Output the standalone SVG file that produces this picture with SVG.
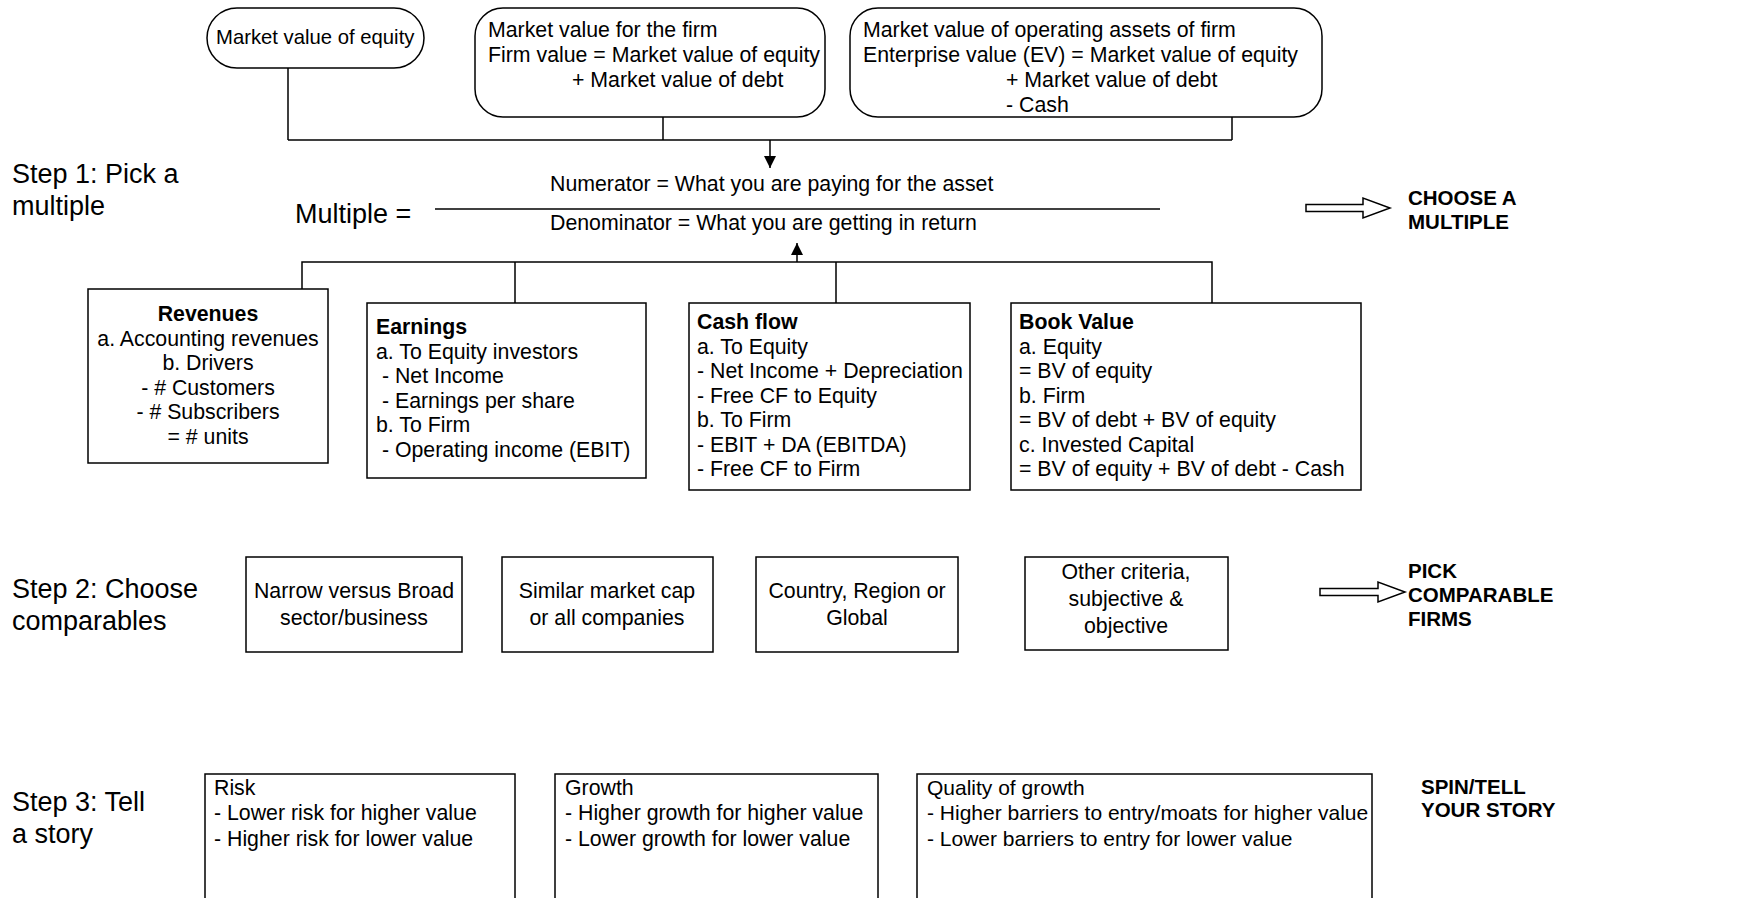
<svg xmlns="http://www.w3.org/2000/svg" width="1743" height="898" viewBox="0 0 1743 898">
<style>
text{font-family:"Liberation Sans",Arial,Helvetica,sans-serif;font-size:21.3px;fill:#000}
.step{font-size:27px}
.big{font-size:27px}
.b{font-weight:bold}
.lab{font-weight:bold;font-size:20.5px}
.c{text-anchor:middle}
.sm{font-size:21px}
.box{fill:#fff;stroke:#000;stroke-width:1.5}
.ln{fill:none;stroke:#000;stroke-width:1.5}
.hollow{fill:#fff;stroke:#000;stroke-width:1.5}
</style>
<defs>
<marker id="ah" viewBox="0 0 12 12" refX="12" refY="6" markerWidth="12" markerHeight="12" markerUnits="userSpaceOnUse" orient="auto">
<path d="M0,0 L12,6 L0,12 Z" fill="#000"/>
</marker>
</defs>
<rect width="1743" height="898" fill="#fff"/>

<g id="connectors">
<path class="ln" d="M288,68 V140 M663,117 V140 M1232,117 V140 M288,140 H1232"/>
<path class="ln" d="M770,140 V168" marker-end="url(#ah)"/>
<path class="ln" d="M302,289 V262 H1212 V303 M515,262 V303 M836,262 V303"/>
<path class="ln" d="M797,262 V243" marker-end="url(#ah)"/>
<line class="ln" x1="435" y1="209" x2="1160" y2="209"/>
</g>

<g id="step1-label">
<text class="step" x="12" y="183">Step 1: Pick a</text>
<text class="step" x="12" y="215">multiple</text>
</g>
<g id="step2-label">
<text class="step" x="12" y="598">Step 2: Choose</text>
<text class="step" x="12" y="630">comparables</text>
</g>
<g id="step3-label">
<text class="step" x="12" y="811">Step 3: Tell</text>
<text class="step" x="12" y="843">a story</text>
</g>

<g id="equity">
<rect class="box" x="207" y="8" width="217" height="60" rx="30" ry="30"/>
<text x="216" y="44" style="font-size:20.3px">Market value of equity</text>
</g>
<g id="firm">
<rect class="box" x="475" y="8" width="350" height="109" rx="28" ry="28"/>
<text x="488" y="37">Market value for the firm</text>
<text x="488" y="62">Firm value = Market value of equity</text>
<text x="572" y="87">+ Market value of debt</text>
</g>
<g id="ev">
<rect class="box" x="850" y="8" width="472" height="109" rx="28" ry="28"/>
<text x="863" y="37">Market value of operating assets of firm</text>
<text x="863" y="62">Enterprise value (EV) = Market value of equity</text>
<text x="1006" y="87">+ Market value of debt</text>
<text x="1006" y="112">- Cash</text>
</g>

<g id="multiple">
<text class="big" x="295" y="223">Multiple =</text>
<text x="550" y="191">Numerator = What you are paying for the asset</text>
<text x="550" y="230">Denominator = What you are getting in return</text>
</g>

<g id="choose-multiple">
<path class="hollow" d="M1306,204.5 H1363 V198 L1390,208 L1363,218 V211.5 H1306 Z"/>
<text class="lab" x="1408" y="205">CHOOSE A</text>
<text class="lab" x="1408" y="229">MULTIPLE</text>
</g>

<g id="revenues">
<rect class="box" x="88" y="289" width="240" height="174"/>
<text class="c b" x="208" y="321">Revenues</text>
<text class="c" x="208" y="346">a. Accounting revenues</text>
<text class="c" x="208" y="370">b. Drivers</text>
<text class="c" x="208" y="395">- # Customers</text>
<text class="c" x="208" y="419">- # Subscribers</text>
<text class="c" x="208" y="444">= # units</text>
</g>
<g id="earnings">
<rect class="box" x="367" y="303" width="279" height="175"/>
<text class="b" x="376" y="334">Earnings</text>
<text x="376" y="359">a. To Equity investors</text>
<text x="376" y="383" xml:space="preserve"> - Net Income</text>
<text x="376" y="408" xml:space="preserve"> - Earnings per share</text>
<text x="376" y="432">b. To Firm</text>
<text x="376" y="457" xml:space="preserve"> - Operating income (EBIT)</text>
</g>
<g id="cashflow">
<rect class="box" x="689" y="303" width="281" height="187"/>
<text class="b" x="697" y="329">Cash flow</text>
<text x="697" y="354">a. To Equity</text>
<text x="697" y="378">- Net Income + Depreciation</text>
<text x="697" y="403">- Free CF to Equity</text>
<text x="697" y="427">b. To Firm</text>
<text x="697" y="452">- EBIT + DA (EBITDA)</text>
<text x="697" y="476">- Free CF to Firm</text>
</g>
<g id="bookvalue">
<rect class="box" x="1011" y="303" width="350" height="187"/>
<text class="b" x="1019" y="329">Book Value</text>
<text x="1019" y="354">a. Equity</text>
<text x="1019" y="378">= BV of equity</text>
<text x="1019" y="403">b. Firm</text>
<text x="1019" y="427">= BV of debt + BV of equity</text>
<text x="1019" y="452">c. Invested Capital</text>
<text x="1019" y="476">= BV of equity + BV of debt - Cash</text>
</g>

<g id="sector">
<rect class="box" x="246" y="557" width="216" height="95"/>
<text class="c" x="354" y="598">Narrow versus Broad</text>
<text class="c" x="354" y="625">sector/business</text>
</g>
<g id="marketcap">
<rect class="box" x="502" y="557" width="211" height="95"/>
<text class="c" x="607" y="598">Similar market cap</text>
<text class="c" x="607" y="625">or all companies</text>
</g>
<g id="country">
<rect class="box" x="756" y="557" width="202" height="95"/>
<text class="c" x="857" y="598">Country, Region or</text>
<text class="c" x="857" y="625">Global</text>
</g>
<g id="other">
<rect class="box" x="1025" y="557" width="203" height="93"/>
<text class="c" x="1126" y="579">Other criteria,</text>
<text class="c" x="1126" y="606">subjective &amp;</text>
<text class="c" x="1126" y="633">objective</text>
</g>

<g id="pick-comparables">
<path class="hollow" d="M1320,588.5 H1378 V582 L1405,592 L1378,602 V595.5 H1320 Z"/>
<text class="lab" x="1408" y="578">PICK</text>
<text class="lab" x="1408" y="602">COMPARABLE</text>
<text class="lab" x="1408" y="626">FIRMS</text>
</g>

<g id="risk">
<rect class="box" x="205" y="774" width="310" height="140"/>
<text x="214" y="795">Risk</text>
<text x="214" y="820">- Lower risk for higher value</text>
<text x="214" y="846">- Higher risk for lower value</text>
</g>
<g id="growth">
<rect class="box" x="555" y="774" width="323" height="140"/>
<text x="565" y="795">Growth</text>
<text x="565" y="820">- Higher growth for higher value</text>
<text x="565" y="846">- Lower growth for lower value</text>
</g>
<g id="quality">
<rect class="box" x="917" y="774" width="455" height="140"/>
<text class="sm" x="927" y="795">Quality of growth</text>
<text class="sm" x="927" y="820">- Higher barriers to entry/moats for higher value</text>
<text class="sm" x="927" y="846">- Lower barriers to entry for lower value</text>
</g>

<g id="story-label">
<text class="lab" x="1421" y="794">SPIN/TELL</text>
<text class="lab" x="1421" y="817">YOUR STORY</text>
</g>
</svg>
